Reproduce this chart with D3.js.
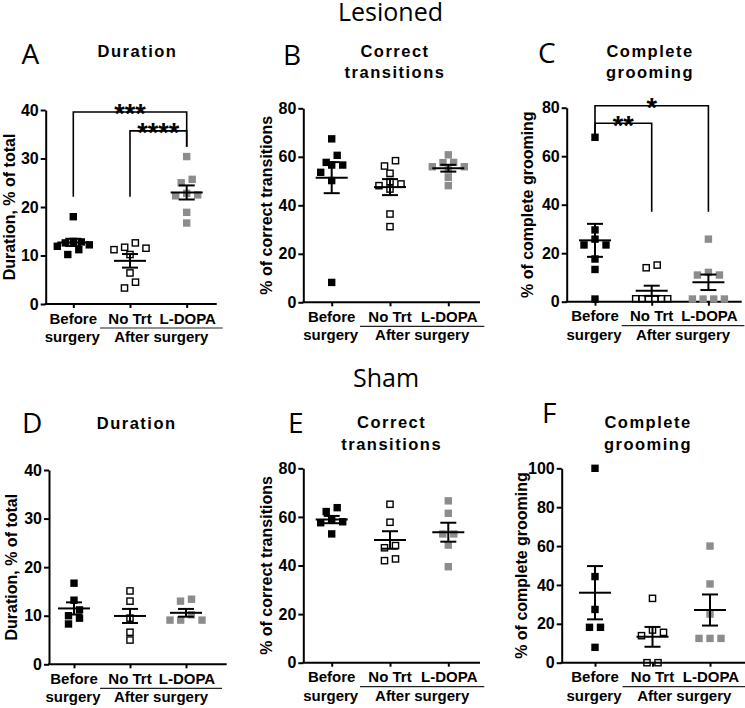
<!DOCTYPE html>
<html><head><meta charset="utf-8">
<script src="https://cdnjs.cloudflare.com/ajax/libs/d3/7.8.5/d3.min.js"></script>
<style>
html,body{margin:0;padding:0;background:#fff;}
svg{display:block;}
.lab{font-family:"Liberation Sans",Arial,sans-serif;font-weight:bold;}
.head{font-family:"Open Sans",sans-serif;}
</style></head>
<body>
<svg id="chart" width="745" height="708"></svg>
<script>
// ---------- DATA ----------
const groups = ["Before surgery", "No Trt", "L-DOPA"];

// Lesioned
const A_duration = [
  [18, 12.9, 12.8, 12.6, 12.2, 11.9, 11.2, 10.2],
  [12.6, 11.7, 11.5, 11.2, 10.2, 6.4, 4.5, 3.3],
  [30.4, 25.7, 25, 22.8, 22.5, 22.3, 18.9, 16.7]
];
const A_mean = [12.7, 8.9, 23.0];
const A_sem  = [0.75, 1.4, 1.45];

const B_correct = [
  [67.4, 60.6, 57.7, 56.6, 56.6, 53.6, 50.2, 8.2],
  [58.4, 56.2, 53.2, 49.8, 48.8, 48.1, 46.7, 36.4, 31.2],
  [60.8, 57.7, 57.6, 55.9, 55.9, 54.6, 51.5, 48.1]
];
const B_mean = [51.4, 47.5, 55.3];
const B_sem  = [6.4, 3.3, 1.4];

const C_complete = [
  [67.8, 29.6, 25.8, 23.4, 23.4, 17.6, 13.3, 1.1],
  [15.1, 14.0, 1.2, 1.2, 1.2, 1.2, 1.2, 1.2],
  [25.8, 12.1, 11.0, 11.0, 1.1, 1.1, 1.1, 1.1]
];
const C_mean = [25.3, 4.5, 8.0];
const C_sem  = [6.8, 2.1, 3.2];

// Sham
const D_duration = [
  [16.7, 13.2, 11.2, 10.0, 9.5, 8.3],
  [15.1, 13.0, 9.5, 6.6, 5.0],
  [13.4, 13.0, 10.2, 9.1, 9.1, 9.1]
];
const D_mean = [11.5, 9.95, 10.6];
const D_sem  = [1.25, 1.45, 0.8];

const E_correct = [
  [63.8, 62.2, 58.7, 58.0, 57.6, 53.0],
  [65.2, 57.8, 48.2, 47.3, 42.7, 42.0],
  [66.6, 61.5, 53.0, 53.0, 48.4, 39.5]
];
const E_mean = [58.9, 50.5, 53.7];
const E_sem  = [1.5, 3.6, 3.9];

const F_complete = [
  [100, 44.3, 27.4, 18.2, 18.2, 7.9],
  [33.1, 16.8, 15.6, 13.9, 0, 0],
  [60, 40.5, 25, 12.5, 12.5, 12.5]
];
const F_mean = [36, 13.3, 27.1];
const F_sem  = [13.7, 5.1, 8];

const ticks40  = [0, 10, 20, 30, 40];
const ticks80  = [0, 20, 40, 60, 80];
const ticks100 = [0, 20, 40, 60, 80, 100];

// significance comparisons
const A_sig = [
  {from: 0, to: 2, top: 39.6, legFrom: 22.1, legTo: 32.4, label: "***"},
  {from: 1, to: 2, top: 35.7, legFrom: 22.1, legTo: 32.4, label: "****"}
];
const C_sig = [
  {from: 0, to: 2, top: 80.8, legFrom: 68.7, legTo: 37.1, label: "*"},
  {from: 0, to: 1, top: 73.6, legFrom: 68.7, legTo: 37.1, label: "**"}
];

// ---------- LAYOUT ----------
const panels = [
  {letter:"A", vals:A_duration, mean:A_mean, sem:A_sem, ticks:ticks40, yMax:40, sig:A_sig,
   x0:45.7, xEnd:216.7, y0:304, yTop:110, cat0:73.3, step:56.7, yLabel:"Duration, % of total", yLabelX:14.5,
   title:["Duration"], titleX:137.5, titleY:56.7, letterX:21.5, letterY:64},
  {letter:"B", vals:B_correct, mean:B_mean, sem:B_sem, ticks:ticks80, yMax:80, sig:[],
   x0:303.3, xEnd:480, y0:302.3, yTop:108.3, cat0:331.7, step:58.3, yLabel:"% of correct transitions", yLabelX:272,
   title:["Correct","transitions"], titleX:395, titleY:56.7, letterX:283, letterY:65},
  {letter:"C", vals:C_complete, mean:C_mean, sem:C_sem, ticks:ticks80, yMax:80, sig:C_sig,
   x0:566.7, xEnd:741.7, y0:301.7, yTop:107.7, cat0:595, step:56.7, yLabel:"% of complete grooming", yLabelX:533,
   title:["Complete","grooming"], titleX:650, titleY:56.7, letterX:538, letterY:63.3},
  {letter:"D", vals:D_duration, mean:D_mean, sem:D_sem, ticks:ticks40, yMax:40, sig:[],
   x0:49, xEnd:226.7, y0:664.3, yTop:470, cat0:74, step:56, yLabel:"Duration, % of total", yLabelX:17,
   title:["Duration"], titleX:136.7, titleY:429.3, letterX:22, letterY:433},
  {letter:"E", vals:E_correct, mean:E_mean, sem:E_sem, ticks:ticks80, yMax:80, sig:[],
   x0:303.3, xEnd:480, y0:662.7, yTop:468.3, cat0:331.7, step:58.3, yLabel:"% of correct transitions", yLabelX:272,
   title:["Correct","transitions"], titleX:391.7, titleY:428.3, letterX:288, letterY:433.3},
  {letter:"F", vals:F_complete, mean:F_mean, sem:F_sem, ticks:ticks100, yMax:100, sig:[],
   x0:561.7, xEnd:745, y0:662.7, yTop:468.3, cat0:595, step:57.5, yLabel:"% of complete grooming", yLabelX:527,
   title:["Complete","grooming"], titleX:648, titleY:428.3, letterX:542, letterY:423.3}
];

const svg = d3.select("#chart");
const SQ = 7.4;
const styles = [
  {fill:"#000", stroke:"none", sw:0, size:SQ},
  {fill:"none", stroke:"#000", sw:1.4, size:SQ-1.2},
  {fill:"#8c8c8c", stroke:"none", sw:0, size:SQ}
];

// Section headers
svg.append("text").attr("class","head").attr("x",390.5).attr("y",21)
  .attr("text-anchor","middle").attr("font-size",25).text("Lesioned");
svg.append("text").attr("class","head").attr("x",386).attr("y",387)
  .attr("text-anchor","middle").attr("font-size",25).text("Sham");

function swarm(values, xc, y) {
  // row-based scatter spreading (GraphPad-like): points that would collide share a row
  const sorted = values.slice().sort((a,b)=>b-a).map(v => ({v, y:y(v)}));
  const rows = [];
  sorted.forEach(p => {
    const r = rows[rows.length-1];
    if (r && Math.abs(p.y - r[0].y) < SQ) r.push(p); else rows.push([p]);
  });
  const out = [];
  rows.forEach(r => {
    const n = r.length;
    const stepX = n > 1 ? Math.min(11, 32 / (n - 1)) : 0;
    const slots = d3.range(n).map(i => (i - (n-1)/2) * stepX);
    const orderIdx = slots.map((s,i)=>i).sort((a,b)=>Math.abs(slots[a])-Math.abs(slots[b]) || slots[b]-slots[a]);
    r.forEach((p,i) => out.push({x: xc + slots[orderIdx[i]], y: p.y, v: p.v}));
  });
  return out;
}

panels.forEach(P => {
  const g = svg.append("g");
  const y = d3.scaleLinear().domain([0, P.yMax]).range([P.y0, P.yTop]);
  const x = d3.scalePoint().domain(groups).range([P.cat0, P.cat0 + 2*P.step]);

  // y axis
  const ya = g.append("g").attr("transform",`translate(${P.x0},0)`)
    .call(d3.axisLeft(y).tickValues(P.ticks).tickSize(5).tickSizeOuter(0).tickPadding(2));
  ya.select(".domain").attr("stroke","#000").attr("stroke-width",2);
  ya.selectAll(".tick line").attr("stroke","#000").attr("stroke-width",2);
  ya.selectAll(".tick text").attr("class","lab").attr("font-size",16).attr("fill","#000")
    .attr("font-family",'"Liberation Sans",Arial,sans-serif').attr("font-weight","bold");

  // x axis
  const xa = g.append("g").attr("transform",`translate(0,${P.y0})`)
    .call(d3.axisBottom(x).tickSize(4).tickFormat(""));
  xa.select(".domain").remove();
  xa.selectAll(".tick line").attr("stroke","#000").attr("stroke-width",2);
  g.append("line").attr("x1",P.x0-1).attr("x2",P.xEnd).attr("y1",P.y0).attr("y2",P.y0)
    .attr("stroke","#000").attr("stroke-width",2);

  // category labels
  const off = {l1:19.5, l2:38, u:24};
  const lab = (tx, xx, yy) => g.append("text").attr("class","lab").attr("font-size",15)
    .attr("text-anchor","middle").attr("x",xx).attr("y",yy).text(tx);
  lab("Before", x(groups[0]), P.y0 + off.l1);
  lab("surgery", x(groups[0]) - 1, P.y0 + off.l2);
  lab("No Trt", x(groups[1]), P.y0 + off.l1);
  lab("L-DOPA", x(groups[2]) + 1, P.y0 + off.l1);
  const u1 = x(groups[1]) - 30, u2 = x(groups[2]) + 36;
  g.append("line").attr("x1",u1).attr("x2",u2).attr("y1",P.y0+off.u).attr("y2",P.y0+off.u)
    .attr("stroke","#222").attr("stroke-width",1.2);
  lab("After surgery", (u1+u2)/2, P.y0 + off.l2);

  // y label
  g.append("text").attr("class","lab").attr("font-size",16).attr("text-anchor","middle")
    .attr("transform",`translate(${P.yLabelX},${(P.y0+P.yTop)/2}) rotate(-90)`).text(P.yLabel);

  // title & letter
  P.title.forEach((t,i) => g.append("text").attr("class","lab").attr("font-size",16.5)
    .attr("letter-spacing",1.5).attr("text-anchor","middle")
    .attr("x",P.titleX).attr("y",P.titleY + i*21.6).text(t));
  g.append("text").attr("class","head").attr("font-size",28).attr("x",P.letterX).attr("y",P.letterY).text(P.letter);

  // points
  P.vals.forEach((vals, gi) => {
    const st = styles[gi];
    const pts = swarm(vals, x(groups[gi]), y);
    g.selectAll(null).data(pts).enter().append("rect")
      .attr("x", d => d.x - st.size/2).attr("y", d => d.y - st.size/2)
      .attr("width", st.size).attr("height", st.size)
      .attr("fill", st.fill).attr("stroke", st.stroke).attr("stroke-width", st.sw);
  });

  // mean ± SEM
  groups.forEach((gr, gi) => {
    const cx = x(gr), m = P.mean[gi], s = P.sem[gi];
    const eg = g.append("g").attr("stroke","#000").attr("stroke-width",2);
    eg.append("line").attr("x1",cx-16).attr("x2",cx+16).attr("y1",y(m)).attr("y2",y(m));
    eg.append("line").attr("x1",cx).attr("x2",cx).attr("y1",y(m+s)).attr("y2",y(m-s));
    eg.append("line").attr("x1",cx-8).attr("x2",cx+8).attr("y1",y(m+s)).attr("y2",y(m+s));
    eg.append("line").attr("x1",cx-8).attr("x2",cx+8).attr("y1",y(m-s)).attr("y2",y(m-s));
  });

  // significance brackets
  P.sig.forEach(s => {
    const xa1 = x(groups[s.from]), xa2 = x(groups[s.to]);
    g.append("path").attr("fill","none").attr("stroke","#000").attr("stroke-width",1.6)
      .attr("d", `M${xa1},${y(s.legFrom)}V${y(s.top)}H${xa2}V${y(s.legTo)}`);
    g.append("text").attr("class","lab").attr("font-size",27).attr("font-weight","normal")
      .attr("text-anchor","middle").attr("x",(xa1+xa2)/2).attr("y",y(s.top)+11.5).text(s.label);
  });
});
</script>
</body></html>
